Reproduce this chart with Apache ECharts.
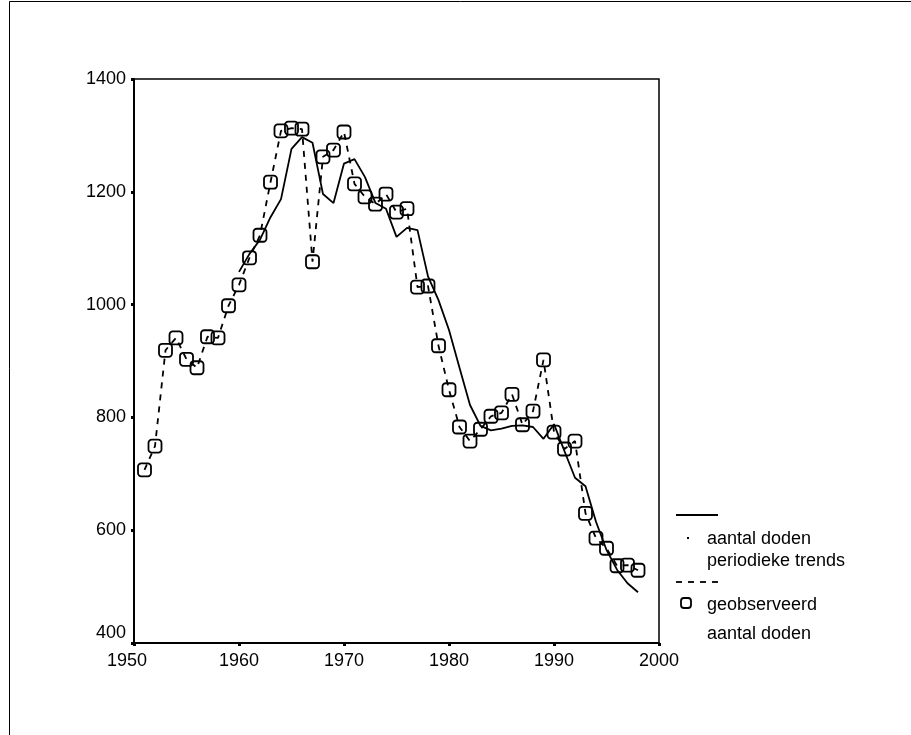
<!DOCTYPE html>
<html>
<head>
<meta charset="utf-8">
<script src="https://cdn.jsdelivr.net/npm/echarts@6/dist/echarts.min.js"></script>
<style>
html,body{margin:0;padding:0;background:#fff;}
#chart{width:911px;height:735px;}
</style>
</head>
<body>
<div id="chart"></div>
<script>
// Observed deaths per year
var obsYears = [1951,1952,1953,1954,1955,1956,1957,1958,1959,1960,1961,1962,1963,1964,1965,1966,1967,1968,1969,1970,1971,1972,1973,1974,1975,1976,1977,1978,1979,1980,1981,1982,1983,1984,1985,1986,1987,1988,1989,1990,1991,1992,1993,1994,1995,1996,1997,1998];
var obsValues = [707,749,919,941,903,888,943,941,998,1035,1083,1123,1217,1308,1313,1311,1076,1262,1274,1306,1214,1191,1178,1196,1164,1170,1031,1033,927,849,783,758,779,802,808,841,787,811,902,774,744,758,630,586,568,537,538,529];
// Periodic trend
var trendYears = [1960,1961,1962,1963,1964,1965,1966,1967,1968,1969,1970,1971,1972,1973,1974,1975,1976,1977,1978,1979,1980,1981,1982,1983,1984,1985,1986,1987,1988,1989,1990,1991,1992,1993,1994,1995,1996,1997,1998];
var trendValues = [1058,1090,1115,1155,1187,1276,1297,1287,1196,1180,1250,1258,1226,1180,1170,1120,1136,1132,1050,1008,955,888,822,785,777,780,785,786,783,762,788,740,693,678,615,565,530,506,490];
// Axis ticks
var xTicks = [1950,1960,1970,1980,1990,2000];
var yTicks = [400,600,800,1000,1200,1400];

function pairs(xs, ys){ return xs.map(function(x,i){ return [x, ys[i]]; }); }

var chart = echarts.init(document.getElementById('chart'), null, {renderer:'canvas'});
var font = 'Liberation Sans, Arial, sans-serif';
var fs = 18;
var legendX = 676;
chart.setOption({
  animation:false,
  backgroundColor:'#fff',
  textStyle:{fontFamily:font},
  grid:{left:134, right:252, top:79, bottom:92, show:true, borderColor:'#000', borderWidth:1.5, backgroundColor:'transparent'},
  xAxis:{
    type:'value', min:xTicks[0], max:xTicks[xTicks.length-1], interval:10,
    splitLine:{show:false},
    axisLine:{show:true, lineStyle:{color:'#000', width:2}},
    axisTick:{show:true, inside:false, length:3, lineStyle:{color:'#000', width:3}},
    axisLabel:{color:'#000', fontSize:fs, fontFamily:font, margin:9,
      formatter:function(v){ return v===1950 ? '{first|1950}' : String(v); },
      rich:{first:{fontSize:fs, fontFamily:font, color:'#000', padding:[0,14,0,0]}}
    }
  },
  yAxis:{
    type:'value', min:yTicks[0], max:yTicks[yTicks.length-1], interval:200,
    splitLine:{show:false},
    axisLine:{show:true, lineStyle:{color:'#000', width:2}},
    axisTick:{show:true, inside:false, length:3, lineStyle:{color:'#000', width:3}},
    axisLabel:{color:'#000', fontSize:fs, fontFamily:font, margin:8,
      formatter:function(v){ return v===400 ? '{low|400}' : String(v); },
      rich:{low:{fontSize:fs, fontFamily:font, color:'#000', padding:[0,0,20,0]}}
    }
  },
  series:[
    {
      name:'periodieke trends', type:'line', data:pairs(trendYears, trendValues),
      symbol:'none', lineStyle:{color:'#000', width:1.8}, z:3
    },
    {
      name:'geobserveerd', type:'line', data:pairs(obsYears, obsValues),
      symbol:'roundRect', symbolSize:13,
      itemStyle:{color:'rgba(255,255,255,0)', borderColor:'#000', borderWidth:1.8},
      lineStyle:{color:'#000', width:1.8, type:[6,6]}, z:2
    }
  ],
  graphic:[
    {type:'rect', shape:{x:9.5, y:1.5, width:1000, height:1000}, style:{fill:'none', stroke:'#000', lineWidth:1}, silent:true},
    {type:'line', shape:{x1:legendX, y1:515, x2:legendX+42, y2:515}, style:{stroke:'#000', lineWidth:1.8}},
    {type:'rect', shape:{x:legendX+11, y:537, width:2, height:2}, style:{fill:'#000'}},
    {type:'text', left:707, top:530, style:{text:'aantal doden', font:fs+'px '+font, fill:'#000'}},
    {type:'text', left:707, top:552, style:{text:'periodieke trends', font:fs+'px '+font, fill:'#000'}},
    {type:'line', shape:{x1:legendX, y1:582, x2:legendX+42, y2:582}, style:{stroke:'#000', lineWidth:1.8, lineDash:[6,6]}},
    {type:'rect', shape:{x:legendX+5, y:598, width:10, height:10, r:3}, style:{fill:'none', stroke:'#000', lineWidth:1.8}},
    {type:'text', left:707, top:596, style:{text:'geobserveerd', font:fs+'px '+font, fill:'#000'}},
    {type:'text', left:707, top:625, style:{text:'aantal doden', font:fs+'px '+font, fill:'#000'}}
  ]
});
</script>
</body>
</html>
